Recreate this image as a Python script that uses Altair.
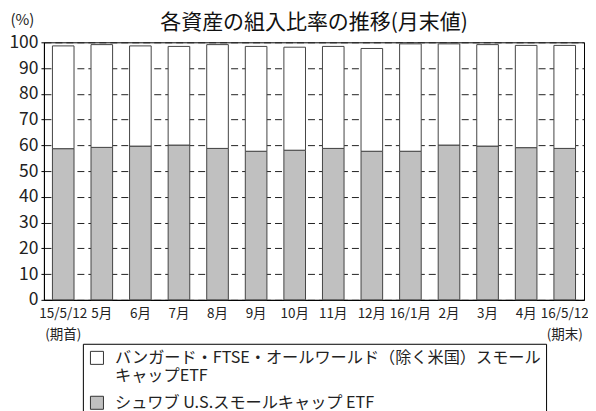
import altair as alt
import pandas as pd

months = ["15/5/12\n(期首)", "5月", "6月", "7月", "8月", "9月", "10月", "11月",
          "12月", "16/1月", "2月", "3月", "4月", "16/5/12\n(期末)"]
schwab = [58.7, 59.2, 59.7, 60.1, 58.8, 57.7, 58.1, 58.8, 57.7, 57.7, 60.1, 59.7, 59.1, 58.8]
total = [98.6, 99.1, 98.6, 98.4, 99.1, 98.4, 98.1, 98.4, 97.6, 99.4, 99.4, 99.1, 98.8, 98.8]

s_vg = "バンガード・FTSE・オールワールド（除く米国）スモールキャップETF"
s_sw = "シュワブ U.S.スモールキャップ ETF"

rows = []
for m, s, t in zip(months, schwab, total):
    rows.append({"month": m, "series": s_sw, "value": s, "ord": 0})
    rows.append({"month": m, "series": s_vg, "value": round(t - s, 2), "ord": 1})
df = pd.DataFrame(rows)

FONT = "Noto Sans CJK JP"

chart = alt.Chart(df).mark_bar(stroke="#444", strokeWidth=1).encode(
    x=alt.X("month:N", sort=months,
            scale=alt.Scale(paddingInner=0.44, paddingOuter=0.22),
            axis=alt.Axis(title=None, labelAngle=0, ticks=False, labelPadding=7,
                          labelFontSize=13.5, labelFont=FONT, labelColor="#222",
                          labelExpr="split(datum.label, '\\n')", labelLineHeight=21,
                          labelBaseline="top", labelOverlap=False, labelBound=False,
                          labelLimit=0, domainColor="#000", grid=False)),
    y=alt.Y("value:Q", stack="zero", scale=alt.Scale(domain=[0, 100], nice=False),
            axis=alt.Axis(title="(%)", titleAngle=0, titleX=-34, titleY=-18,
                          titleAlign="left", titleBaseline="alphabetic",
                          titleFont=FONT, titleFontSize=15, titleFontWeight="normal",
                          titleColor="#222",
                          values=list(range(0, 101, 10)), labelFontSize=17.5,
                          labelFont=FONT, labelColor="#222", tickSize=3,
                          labelPadding=3, tickColor="#000", domainColor="#000",
                          grid=True, gridColor="#222", gridDash=[7, 4],
                          gridWidth=1)),
    color=alt.Color("series:N",
                    scale=alt.Scale(domain=[s_vg, s_sw], range=["#ffffff", "#c0c0c0"]),
                    legend=alt.Legend(
                        title=None, orient="none", legendX=39, legendY=302,
                        direction="vertical", symbolType="square", symbolSize=170,
                        symbolStrokeColor="#333", symbolStrokeWidth=1,
                        labelFont=FONT, labelFontSize=16.2, labelColor="#222",
                        labelLimit=0, labelOffset=10,
                        labelExpr="datum.label == '" + s_vg + "' ? ['バンガード・FTSE・オールワールド（除く米国）スモール', 'キャップETF'] : datum.label",
                        strokeColor="#000", fillColor="#fff", padding=6,
                        rowPadding=9)),
    order=alt.Order("ord:Q"),
).properties(
    width=541, height=258,
    title=alt.TitleParams("各資産の組入比率の推移(月末値)", font=FONT, fontSize=21,
                          fontWeight="normal", color="#111", anchor="middle",
                          frame="group", offset=-21),
    autosize=alt.AutoSizeParams(type="none"),
    padding={"left": 36, "top": 34, "right": 4, "bottom": 125},
).configure_view(stroke="#000", strokeWidth=1)

chart.save("out.html", embed_options={"renderer": "svg", "actions": False})
